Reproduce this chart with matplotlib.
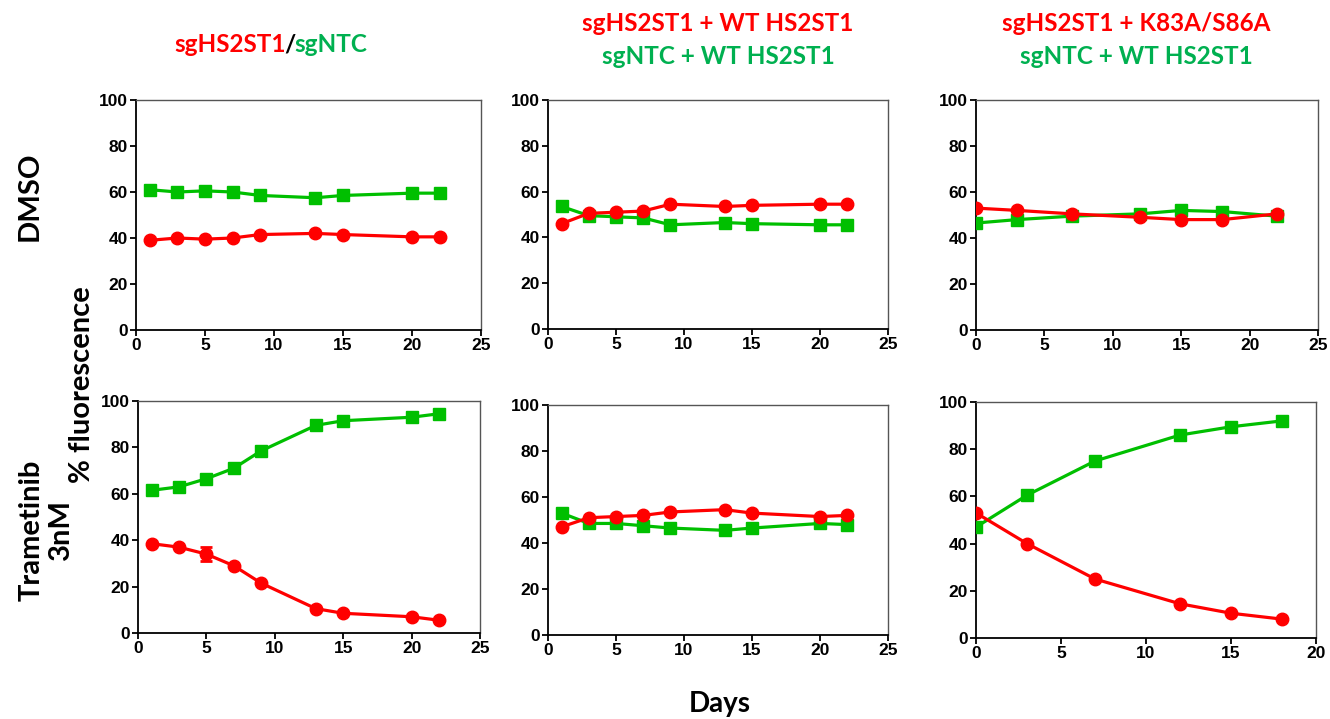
import numpy as np
import matplotlib
matplotlib.use("Agg")
import matplotlib.pyplot as plt
from matplotlib.offsetbox import TextArea, HPacker, VPacker, AnnotationBbox

# values (% fluorescence vs days)
days_a = [1, 3, 5, 7, 9, 13, 15, 20, 22]
days_c_dmso = [0, 3, 7, 12, 15, 18, 22]
days_c_tram = [0, 3, 7, 12, 15, 18]

# column 1: sgHS2ST1 / sgNTC
c1_dmso_red = [39, 40, 39.5, 40, 41.5, 42, 41.5, 40.5, 40.5]
c1_dmso_green = [61, 60, 60.5, 60, 58.5, 57.5, 58.5, 59.5, 59.5]
c1_tram_red = [38.5, 37, 34, 29, 21.5, 10.5, 8.5, 7, 5.5]
c1_tram_red_err = [0, 0, 3, 0, 0, 0, 0, 0, 0]
c1_tram_green = [61.5, 63, 66.5, 71, 78.5, 89.5, 91.5, 93, 94.5]

# column 2: + WT HS2ST1
c2_dmso_red = [46, 50.5, 51, 51.5, 54.5, 53.5, 54, 54.5, 54.5]
c2_dmso_green = [53.5, 49.5, 49, 48.5, 45.5, 46.5, 46, 45.5, 45.5]
c2_tram_red = [47, 51, 51.5, 52, 53.5, 54.5, 53, 51.5, 52]
c2_tram_green = [53, 48.5, 48.5, 47.5, 46.5, 45.5, 46.5, 48.5, 48]

# column 3: + K83A/S86A
c3_dmso_red = [53, 52, 50.5, 49, 48, 48, 50.5]
c3_dmso_green = [46.5, 48, 49.5, 50.5, 52, 51.5, 49.5]
c3_tram_red = [53, 40, 25, 14.5, 10.5, 8]
c3_tram_green = [47, 60.5, 75, 86, 89.5, 92]

RED = "#ff0000"
GREEN = "#00bf00"
T_RED = "#ff0000"
T_GREEN = "#00b050"

plt.rcParams["font.family"] = ["Liberation Sans", "DejaVu Sans"]
plt.rcParams["font.weight"] = "bold"

fig = plt.figure(figsize=(13.3, 7.19), dpi=100)
W, H = 1330, 719


def make_ax(l, r, t, b):
    return fig.add_axes([l / W, 1 - b / H, (r - l) / W, (b - t) / H])


def style(ax, xmax):
    ax.set_xlim(0, xmax)
    ax.set_ylim(0, 100)
    ax.set_xticks(np.arange(0, xmax + 1, 5))
    ax.set_yticks(np.arange(0, 101, 20))
    for s in ["left", "bottom"]:
        ax.spines[s].set_linewidth(1.3)
        ax.spines[s].set_color("black")
    for s in ["top", "right"]:
        ax.spines[s].set_linewidth(1.0)
        ax.spines[s].set_color("#555555")
    ax.tick_params(direction="out", length=4, width=1.3, labelsize=12.5, pad=2)
    for lab in ax.get_xticklabels() + ax.get_yticklabels():
        lab.set_fontweight("bold")


def plot_pair(ax, x, red, green, red_err=None):
    ax.plot(x, green, color=GREEN, lw=2.3, marker="s", ms=9, zorder=3)
    if red_err is not None:
        ax.errorbar(x, red, yerr=red_err, color=RED, lw=2.3, marker="o", ms=9,
                    capsize=4, elinewidth=2, capthick=2, zorder=4)
    else:
        ax.plot(x, red, color=RED, lw=2.3, marker="o", ms=9, zorder=4)


ax1 = make_ax(136, 481, 100, 330)
plot_pair(ax1, days_a, c1_dmso_red, c1_dmso_green)
style(ax1, 25)

ax4 = make_ax(138, 480, 401, 633)
plot_pair(ax4, days_a, c1_tram_red, c1_tram_green, c1_tram_red_err)
style(ax4, 25)

ax2 = make_ax(548, 888, 100, 329)
plot_pair(ax2, days_a, c2_dmso_red, c2_dmso_green)
style(ax2, 25)

ax5 = make_ax(548, 888, 405, 635)
plot_pair(ax5, days_a, c2_tram_red, c2_tram_green)
style(ax5, 25)

ax3 = make_ax(976, 1318, 100, 330)
plot_pair(ax3, days_c_dmso, c3_dmso_red, c3_dmso_green)
style(ax3, 25)

ax6 = make_ax(976, 1316, 402, 638)
plot_pair(ax6, days_c_tram, c3_tram_red, c3_tram_green)
style(ax6, 20)

# column titles
tprops = dict(family=["Lato", "DejaVu Sans"], fontweight="bold", fontsize=17.5)


def ta(s, c):
    return TextArea(s, textprops=dict(color=c, **tprops))


def put(box, x, y):
    ab = AnnotationBbox(box, (x / W, 1 - y / H), xycoords="figure fraction",
                        frameon=False, box_alignment=(0.5, 0.5), pad=0)
    fig.add_artist(ab)


put(HPacker(children=[ta("sgHS2ST1", T_RED), ta("/", "black"), ta("sgNTC", T_GREEN)],
            sep=-1, pad=0), 271, 45)
put(VPacker(children=[ta("sgHS2ST1 + WT HS2ST1", T_RED), ta("sgNTC + WT HS2ST1", T_GREEN)],
            sep=7, pad=0, align="center"), 718, 40)
put(VPacker(children=[ta("sgHS2ST1 + K83A/S86A", T_RED), ta("sgNTC + WT HS2ST1", T_GREEN)],
            sep=7, pad=0, align="center"), 1136, 40)

# row labels and shared axis labels
lprops = dict(family=["Lato", "DejaVu Sans"], fontweight="bold", fontsize=21)
fig.text(30 / W, 1 - 196 / H, "DMSO", rotation=90, ha="center", va="center", **lprops)
fig.text(46 / W, 1 - 530 / H, "Trametinib\n3nM", rotation=90, ha="center", va="center",
         linespacing=1.15, multialignment="center", **lprops)
fig.text(82 / W, 1 - 385 / H, "% fluorescence", rotation=90, ha="center", va="center", **lprops)
fig.text(720 / W, 1 - 704 / H, "Days", ha="center", va="center",
         family=["Lato", "DejaVu Sans"], fontweight="bold", fontsize=20)

fig.savefig("out.png", dpi=100)
